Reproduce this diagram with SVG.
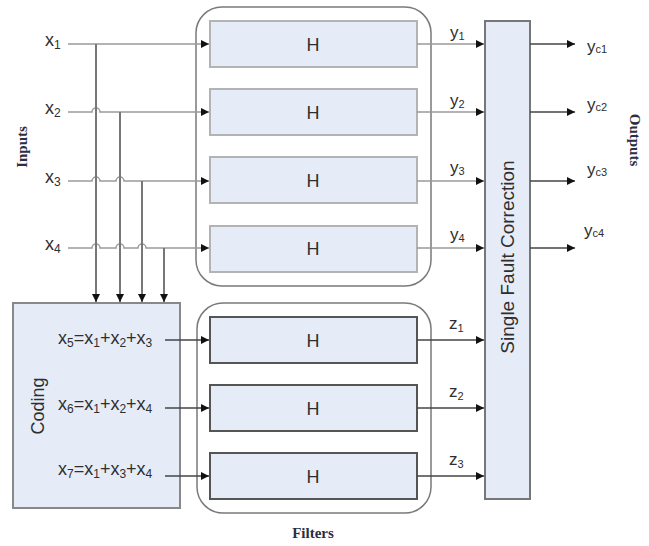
<svg xmlns="http://www.w3.org/2000/svg" width="649" height="546" viewBox="0 0 649 546">
<style>
.t{font-family:"Liberation Sans",Arial,sans-serif;fill:#2e2e2e}
.s{font-size:12px}
.lbl{font-family:"Liberation Serif","Times New Roman",serif;font-weight:bold;fill:#2a2f45;font-size:15px}
.box{fill:#e6ecf7}
.hl{stroke:#b3b3b3;stroke-width:2}
.hd{stroke:#555;stroke-width:2}
.cont{fill:none;stroke:#7a7a7a;stroke-width:1.5}
.ln{fill:none;stroke:#9a9a9a;stroke-width:1.5}
.vl{fill:none;stroke:#777;stroke-width:2}
.dk{fill:none;stroke:#444;stroke-width:1.5}
</style>
<defs>
<marker id="ah" viewBox="0 0 10 10" refX="10" refY="5" markerWidth="9" markerHeight="8" markerUnits="userSpaceOnUse" orient="auto">
<path d="M0,0 L10,5 L0,10 z" fill="#111"/>
</marker>
</defs>
<rect width="649" height="546" fill="#fff"/>

<g id="labels">
<text class="lbl" transform="translate(27,147) rotate(-90)" text-anchor="middle">Inputs</text>
<text class="lbl" transform="translate(630,140) rotate(90)" text-anchor="middle">Outputs</text>
<text class="lbl" x="313" y="538" text-anchor="middle">Filters</text>
</g>

<g id="filters-top">
<rect class="cont" x="196" y="7" width="235" height="279" rx="26"/>
</g>
<g id="filters-bottom">
<rect class="cont" x="197" y="303" width="234" height="210" rx="26"/>
</g>

<g id="h1"><rect class="box hl" x="210" y="21" width="207" height="46"/><text class="t" x="313" y="51" font-size="18" text-anchor="middle">H</text></g>
<g id="h2"><rect class="box hl" x="210" y="89" width="207" height="46"/><text class="t" x="313" y="119" font-size="18" text-anchor="middle">H</text></g>
<g id="h3"><rect class="box hl" x="210" y="157" width="207" height="46"/><text class="t" x="313" y="187" font-size="18" text-anchor="middle">H</text></g>
<g id="h4"><rect class="box hl" x="210" y="226" width="207" height="46"/><text class="t" x="313" y="255" font-size="18" text-anchor="middle">H</text></g>
<g id="h5"><rect class="box hd" x="210" y="317" width="207" height="46"/><text class="t" x="313" y="347" font-size="18" text-anchor="middle">H</text></g>
<g id="h6"><rect class="box hd" x="210" y="385" width="207" height="46"/><text class="t" x="313" y="415" font-size="18" text-anchor="middle">H</text></g>
<g id="h7"><rect class="box hd" x="210" y="453" width="207" height="46"/><text class="t" x="313" y="483" font-size="18" text-anchor="middle">H</text></g>

<g id="coding">
<rect class="box" x="13" y="303" width="167" height="205" stroke="#888" stroke-width="2"/>
<text class="t" transform="translate(38,406) rotate(-90)" font-size="18" text-anchor="middle" dominant-baseline="central">Coding</text>
<text class="t" x="58" y="344" font-size="18">x<tspan class="s" dy="3">5</tspan><tspan dy="-3">=x</tspan><tspan class="s" dy="3">1</tspan><tspan dy="-3">+x</tspan><tspan class="s" dy="3">2</tspan><tspan dy="-3">+x</tspan><tspan class="s" dy="3">3</tspan></text>
<text class="t" x="58" y="410" font-size="18">x<tspan class="s" dy="3">6</tspan><tspan dy="-3">=x</tspan><tspan class="s" dy="3">1</tspan><tspan dy="-3">+x</tspan><tspan class="s" dy="3">2</tspan><tspan dy="-3">+x</tspan><tspan class="s" dy="3">4</tspan></text>
<text class="t" x="58" y="475" font-size="18">x<tspan class="s" dy="3">7</tspan><tspan dy="-3">=x</tspan><tspan class="s" dy="3">1</tspan><tspan dy="-3">+x</tspan><tspan class="s" dy="3">3</tspan><tspan dy="-3">+x</tspan><tspan class="s" dy="3">4</tspan></text>
</g>

<g id="sfc">
<rect class="box" x="485" y="21" width="45" height="478" stroke="#777" stroke-width="2"/>
<text class="t" transform="translate(507,257) rotate(-90)" font-size="19" text-anchor="middle" dominant-baseline="central">Single Fault Correction</text>
</g>

<g id="input-labels" class="t" font-size="18">
<text x="45" y="46">x<tspan class="s" dy="3">1</tspan></text>
<text x="45" y="114">x<tspan class="s" dy="3">2</tspan></text>
<text x="45" y="183">x<tspan class="s" dy="3">3</tspan></text>
<text x="45" y="250">x<tspan class="s" dy="3">4</tspan></text>
</g>

<g id="signal-labels" class="t" font-size="17">
<text x="450" y="38">y<tspan font-size="11" dy="2">1</tspan></text>
<text x="450" y="106">y<tspan font-size="11" dy="2">2</tspan></text>
<text x="450" y="173">y<tspan font-size="11" dy="2">3</tspan></text>
<text x="450" y="240">y<tspan font-size="11" dy="2">4</tspan></text>
<text x="449" y="329">z<tspan font-size="11" dy="3">1</tspan></text>
<text x="449" y="397">z<tspan font-size="11" dy="3">2</tspan></text>
<text x="449" y="465">z<tspan font-size="11" dy="3">3</tspan></text>
<text x="587" y="52">y<tspan font-size="11" dy="1">c1</tspan></text>
<text x="587" y="110">y<tspan font-size="11" dy="1">c2</tspan></text>
<text x="587" y="175">y<tspan font-size="11" dy="1">c3</tspan></text>
<text x="584" y="236">y<tspan font-size="11" dy="1">c4</tspan></text>
</g>

<g id="connectors">
<path class="ln" d="M68,44 H209" marker-end="url(#ah)"/>
<path class="ln" d="M68,112 H92 A4,4 0 0 1 100,112 H209" marker-end="url(#ah)"/>
<path class="ln" d="M68,181 H92 A4,4 0 0 1 100,181 H116 A4,4 0 0 1 124,181 H209" marker-end="url(#ah)"/>
<path class="ln" d="M68,248 H92 A4,4 0 0 1 100,248 H116 A4,4 0 0 1 124,248 H138 A4,4 0 0 1 146,248 H209" marker-end="url(#ah)"/>
<path class="vl" d="M96,44 V302" marker-end="url(#ah)"/>
<path class="vl" d="M120,112 V302" marker-end="url(#ah)"/>
<path class="vl" d="M142,181 V302" marker-end="url(#ah)"/>
<path class="vl" d="M164,248 V302" marker-end="url(#ah)"/>
<path class="dk" d="M165,340 H209" marker-end="url(#ah)"/>
<path class="dk" d="M165,408 H209" marker-end="url(#ah)"/>
<path class="dk" d="M165,476 H209" marker-end="url(#ah)"/>
<path class="ln" d="M417,44 H484" marker-end="url(#ah)"/>
<path class="ln" d="M417,112 H484" marker-end="url(#ah)"/>
<path class="ln" d="M417,181 H484" marker-end="url(#ah)"/>
<path class="ln" d="M417,248 H484" marker-end="url(#ah)"/>
<path class="dk" d="M417,340 H484" marker-end="url(#ah)"/>
<path class="dk" d="M417,408 H484" marker-end="url(#ah)"/>
<path class="dk" d="M417,476 H484" marker-end="url(#ah)"/>
<path class="dk" d="M530,44 H575" marker-end="url(#ah)"/>
<path class="dk" d="M530,112 H575" marker-end="url(#ah)"/>
<path class="dk" d="M530,181 H575" marker-end="url(#ah)"/>
<path class="dk" d="M530,248 H575" marker-end="url(#ah)"/>
</g>
</svg>
